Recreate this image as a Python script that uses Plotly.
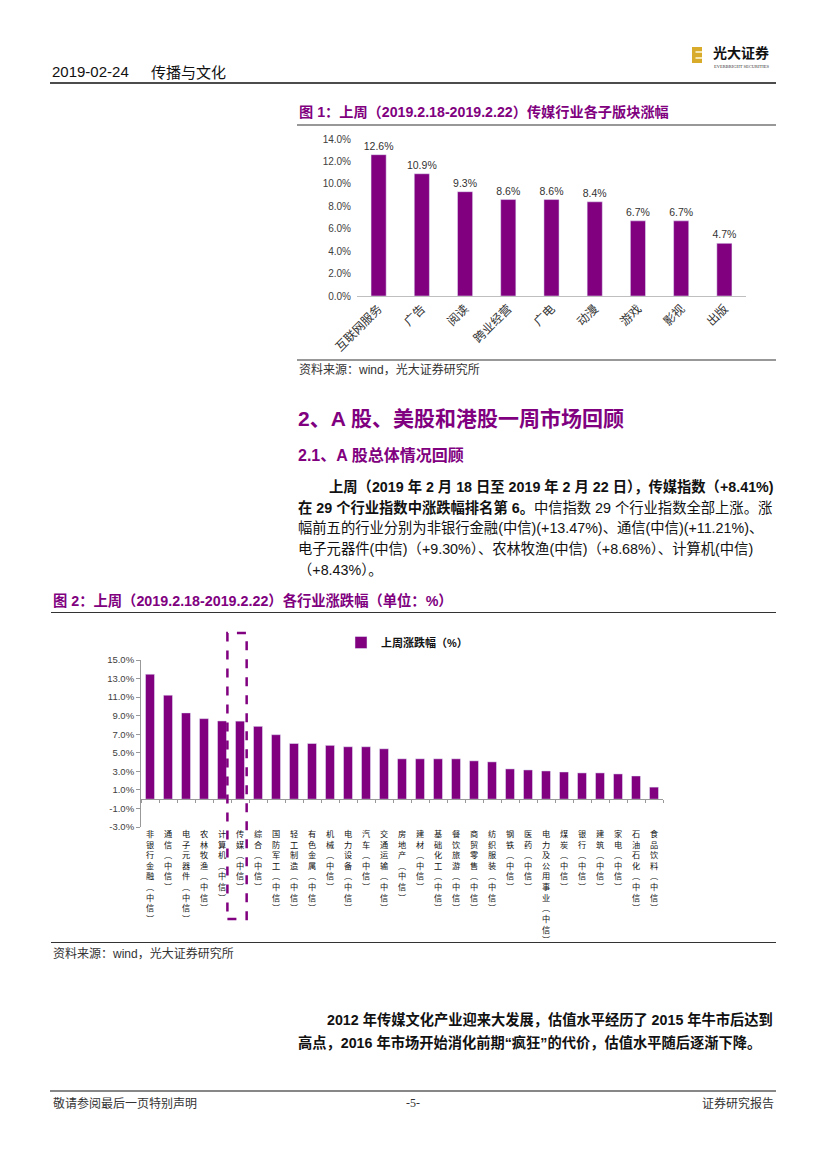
import plotly.graph_objects as go

W, H = 827, 1169

# ---------------- data ----------------
sub_cats = ["互联网服务", "广告", "阅读", "跨业经营", "广电", "动漫", "游戏", "影视", "出版"]
sub_vals = [12.6, 10.9, 9.3, 8.6, 8.6, 8.4, 6.7, 6.7, 4.7]

ind_cats = ["非银行金融(中信)", "通信(中信)", "电子元器件(中信)", "农林牧渔(中信)", "计算机(中信)",
            "传媒(中信)", "综合(中信)", "国防军工(中信)", "轻工制造(中信)", "有色金属(中信)",
            "机械(中信)", "电力设备(中信)", "汽车(中信)", "交通运输(中信)", "房地产(中信)",
            "建材(中信)", "基础化工(中信)", "餐饮旅游(中信)", "商贸零售(中信)", "纺织服装(中信)",
            "钢铁(中信)", "医药(中信)", "电力及公用事业(中信)", "煤炭(中信)", "银行(中信)",
            "建筑(中信)", "家电(中信)", "石油石化(中信)", "食品饮料(中信)"]
ind_vals = [13.47, 11.21, 9.30, 8.68, 8.43, 8.41, 7.85, 6.95, 6.0, 6.0,
            5.8, 5.65, 5.65, 5.43, 4.35, 4.35, 4.35, 4.35, 4.13, 4.02,
            3.26, 3.15, 3.04, 2.93, 2.83, 2.83, 2.72, 2.5, 1.3]
ind_ticks = [-3, -1, 1, 3, 5, 7, 9, 11, 13, 15]
ind_ticktext = [f"{v:.1f}%" for v in ind_ticks]
series_name = "上周涨跌幅（%）"
highlight = "传媒(中信)"

# ---------------- helpers ----------------
def px(x):
    return x / W

def py(y):
    return 1 - y / H

PURPLE = "#800080"
CJK = "Liberation Sans, Noto Sans CJK SC"


def vlabel(s):
    s = s.replace("(", "︵").replace(")", "︶")
    return "<br>".join(list(s))

ind_labels = [vlabel(c) for c in ind_cats]

fig = go.Figure()

fig.add_trace(go.Bar(
    x=sub_cats, y=sub_vals, xaxis="x", yaxis="y",
    marker_color=PURPLE, width=0.35, showlegend=False,
    texttemplate="%{y:.1f}%", textposition="outside", constraintext="none",
    textfont=dict(size=10.5, color="#333333", family="Liberation Sans"),
    cliponaxis=False,
))

fig.add_trace(go.Bar(
    x=ind_labels, y=ind_vals, xaxis="x2", yaxis="y2",
    marker_color=PURPLE, width=0.5, name="<b>" + series_name + "</b>",
    showlegend=True,
))

fig.update_layout(
    width=W, height=H, margin=dict(l=0, r=0, t=0, b=0, pad=0, autoexpand=False),
    paper_bgcolor="white", plot_bgcolor="white",
    font=dict(family=CJK, color="#222222"),
    xaxis=dict(domain=[px(357), px(746)], anchor="y", range=[-0.5, 8.5], automargin=False,
               showline=True, linecolor="#bfbfbf", linewidth=1, ticks="",
               tickangle=-45, tickfont=dict(size=12, color="#333333", family="Noto Sans CJK SC"),
               showgrid=False, fixedrange=True),
    yaxis=dict(domain=[py(296), py(139)], anchor="x", range=[0, 14], dtick=2, automargin=False,
               tickformat=".1f", ticksuffix="%", showgrid=False, zeroline=False,
               showline=False, ticks="", ticklabelstandoff=5,
               tickfont=dict(size=10, color="#404040", family="Liberation Sans")),
    xaxis2=dict(domain=[px(141), px(663)], anchor="free", position=py(799), automargin=False,
                range=[-0.5, 28.5], showline=True, linecolor="#999999", linewidth=1,
                ticks="outside", tickson="boundaries", ticklen=3, tickcolor="#999999",
                tickangle=0, ticklabelstandoff=27,
                tickfont=dict(size=8.2, color="#111111", family="Noto Sans CJK SC"),
                showgrid=False),
    yaxis2=dict(domain=[py(827), py(660)], anchor="x2", range=[-3, 15], automargin=False,
                tickmode="array", tickvals=ind_ticks, ticktext=ind_ticktext,
                showline=True, linecolor="#999999", linewidth=1, ticks="outside",
                ticklen=4, tickcolor="#999999", showgrid=False, zeroline=False,
                tickfont=dict(size=9.5, color="#404040", family="Liberation Sans")),
    legend=dict(x=px(341), y=py(628), xanchor="left", yanchor="top",
                bgcolor="rgba(0,0,0,0)", font=dict(size=11, color="#111111", family=CJK),
                itemwidth=30),
    bargap=0.5,
)

# dashed highlight box around 传媒
hi = ind_cats.index(highlight)
fig.add_shape(type="rect", xref="x2", yref="paper", x0=hi - 0.7, x1=hi + 0.37,
              y0=py(919), y1=py(633), line=dict(color=PURPLE, width=2.5, dash="dash"))

# ---------------- page decoration ----------------
def hline(x0, x1, y, color="#333333", width=1.2):
    fig.add_shape(type="line", xref="paper", yref="paper", x0=px(x0), x1=px(x1),
                  y0=py(y), y1=py(y), line=dict(color=color, width=width))

def text(x, y, s, size, color="#222222", bold=False, anchor="left", family=CJK):
    if bold:
        s = "<b>" + s + "</b>"
    fig.add_annotation(xref="paper", yref="paper", x=px(x), y=py(y), text=s,
                       showarrow=False, xanchor=anchor, yanchor="middle",
                       font=dict(size=size, color=color, family=family))

# header
text(50, 72, "2019-02-24", 15, "#111111", family="Liberation Sans Narrow, Liberation Sans")
text(149, 72, "传播与文化", 15, "#111111", family="Noto Sans CJK SC")
hline(50, 776, 83, "#111111", 1.5)
# logo
fig.add_shape(type="rect", xref="paper", yref="paper", x0=px(692), x1=px(702), y0=py(63), y1=py(47),
              fillcolor="#d8ac2a", line=dict(width=0))
fig.add_shape(type="rect", xref="paper", yref="paper", x0=px(695.5), x1=px(702), y0=py(53), y1=py(51),
              fillcolor="#f6e7b0", line=dict(width=0))
fig.add_shape(type="rect", xref="paper", yref="paper", x0=px(695.5), x1=px(702), y0=py(59), y1=py(57),
              fillcolor="#f6e7b0", line=dict(width=0))
text(711, 52.5, "光大证券", 14, "#111111", bold=True, family="Noto Sans CJK SC")
text(712, 66, "EVERBRIGHT SECURITIES", 4.5, "#333333", family="Liberation Serif")

# figure 1
text(297, 112, "图 1：上周（2019.2.18-2019.2.22）传媒行业各子版块涨幅", 14.2, PURPLE, bold=True)
hline(297, 776, 125)
hline(297, 776, 360)
text(297, 370, "资料来源：wind，光大证券研究所", 12, "#333333")

# section headings
text(296, 418, "2、A 股、美股和港股一周市场回顾", 21, PURPLE, bold=True)
text(296, 455, "2.1、A 股总体情况回顾", 16, PURPLE, bold=True)

# paragraph
BODY = 14.3
text(327, 487, "<b>上周（2019 年 2 月 18 日至 2019 年 2 月 22 日），传媒指数（+8.41%)</b>", BODY, "#111111")
text(296, 507, "<b>在 29 个行业指数中涨跌幅排名第 6。</b>中信指数 29 个行业指数全部上涨。涨", BODY, "#111111")
text(296, 528, "幅前五的行业分别为非银行金融(中信)(+13.47%)、通信(中信)(+11.21%)、", BODY, "#111111")
text(296, 549, "电子元器件(中信)（+9.30%）、农林牧渔(中信)（+8.68%）、计算机(中信)", BODY, "#111111")
text(296, 570, "（+8.43%）。", BODY, "#111111")

# figure 2
text(51, 600, "图 2：上周（2019.2.18-2019.2.22）各行业涨跌幅（单位：%）", 14.3, PURPLE, bold=True)
hline(51, 776, 612.5)
hline(51, 776, 942.5)
text(51, 953, "资料来源：wind，光大证券研究所", 12, "#333333")

# closing paragraph
text(325, 1020, "<b>2012 年传媒文化产业迎来大发展，估值水平经历了 2015 年牛市后达到</b>", 14.25, "#111111")
text(296, 1042, "<b>高点，2016 年市场开始消化前期“疯狂”的代价，估值水平随后逐渐下降。</b>", 14.25, "#111111")

# footer
hline(50, 776, 1091, "#111111", 1.2)
text(51, 1103, "敬请参阅最后一页特别声明", 12, "#333333")
text(413, 1103, "-5-", 12, "#333333", anchor="center", family="Liberation Serif")
text(776, 1103, "证券研究报告", 12, "#333333", anchor="right")

fig.write_html("out.html", config={"displayModeBar": False},
               post_script="document.body.style.margin='0';document.body.style.overflow='hidden';")
